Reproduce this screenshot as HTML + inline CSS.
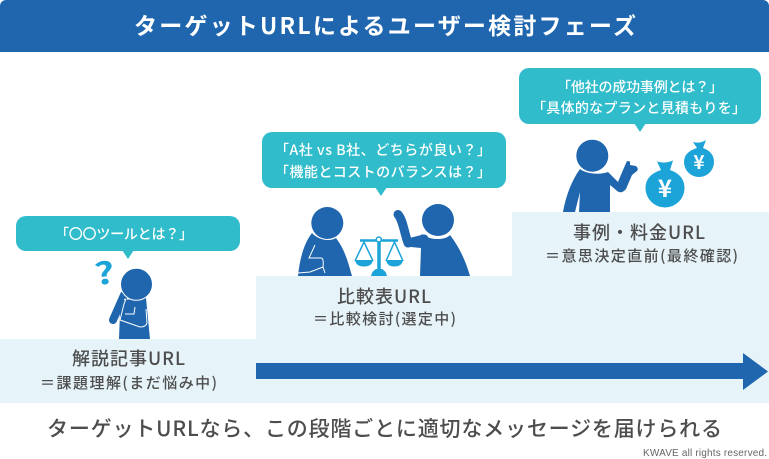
<!DOCTYPE html>
<html lang="ja"><head><meta charset="utf-8"><title>ターゲットURLによるユーザー検討フェーズ</title>
<style>
html,body{margin:0;padding:0;background:#fff;width:769px;height:459px;overflow:hidden}
svg{display:block}
text{font-family:"Noto Sans CJK JP","Liberation Sans",sans-serif;text-anchor:middle}
.b{fill:#fff;font-size:14px;font-weight:500}
.h{fill:#4d4d4d;font-size:18px;font-weight:500}
.s{fill:#4d4d4d;font-size:15px;font-weight:500}
</style></head><body>
<svg width="769" height="459" viewBox="0 0 769 459" xmlns="http://www.w3.org/2000/svg">
<path d="M0 52V6a6 6 0 0 1 6-6H763a6 6 0 0 1 6 6V52Z" fill="#1f66ae"/>
<text x="385" y="34" fill="#fff" font-size="23" font-weight="700" textLength="502" lengthAdjust="spacing">ターゲットURLによるユーザー検討フェーズ</text>

<path d="M0 339H256V276H512V212H769V403H0Z" fill="#e6f4fa"/>
<path d="M256 363H743V353L768 371.500L743 390V379H256Z" fill="#1f66ae"/>

<!-- bubbles -->
<g fill="#30bccb">
<rect x="16" y="216" width="224" height="35" rx="10"/><path d="M122 250H134L128 259Z"/>
<rect x="262" y="132" width="244" height="56" rx="10"/><path d="M375 187H387L381 196Z"/>
<rect x="519" y="68" width="242" height="56" rx="10"/><path d="M634 123H646L640 132Z"/>
</g>
<text class="b" x="124" y="239" textLength="138" lengthAdjust="spacing">「〇〇ツールとは？」</text>
<text class="b" x="383" y="155" textLength="216" lengthAdjust="spacing">「A社 vs B社、どちらが良い？」</text>
<text class="b" x="383" y="177" textLength="216" lengthAdjust="spacing">「機能とコストのバランスは？」</text>
<text class="b" x="640" y="92" textLength="166" lengthAdjust="spacing">「他社の成功事例とは？」</text>
<text class="b" x="639" y="113" textLength="214" lengthAdjust="spacing">「具体的なプランと見積もりを」</text>

<!-- person 1 -->
<text font-size="30" font-weight="700" fill="#1ca4d8" transform="translate(106 284) rotate(-8) scale(1.300 1)">?</text>
<g fill="#1f66ae">
<path d="M119 339L120 312L122 300L146 298L150 339Z"/>
<path d="M124 295L113 320" stroke="#1f66ae" stroke-width="8" stroke-linecap="round"/>
<circle cx="136.500" cy="284.300" r="16" stroke="#fff" stroke-width="1"/>
</g>
<path d="M124 300Q127 297 124 304L120 320L140 327Q146 327 147 323L146 309M135 307L134 314H125" fill="none" stroke="#fff" stroke-width="1"/>

<!-- person 2 -->
<g fill="#1f66ae">
<path d="M298 276C300 256 305 242 312 233C318 240 330 242 336 238C345 250 348 262 352 276Z"/>
<circle cx="327.300" cy="223" r="16"/>
<path d="M420 276L421 248L411 247L422 234C428 240 445 241 450 235C460 248 466 262 470 276Z"/>
<path d="M398 214.500C403 220 404 232 408 243L424 239" fill="none" stroke="#1f66ae" stroke-width="9" stroke-linecap="round" stroke-linejoin="round"/>
<circle cx="438" cy="220" r="16"/>
</g>
<path d="M315 245L309 258H321Q324 258 323 267L310 272L298 273M323 267L325 273" fill="none" stroke="#fff" stroke-width="1"/>
<g fill="#1ca4d8" stroke="#1ca4d8">
<path d="M360 240.500H398" stroke-width="2.500"/>
<path d="M379 240V272" stroke-width="3.500"/>
<path d="M355 261L364 242L373 261M386 261L394.500 242L403 261" fill="none" stroke-width="1.500"/>
<path d="M355 260H373Q372 266.500 364 266.500Q356 266.500 355 260ZM386 260H403Q402 266.500 394.500 266.500Q387 266.500 386 260Z" stroke="none"/>
<path d="M371 276Q372 271 376 269H382Q386 271 387 276Z" stroke="none"/>
</g>
<circle cx="378.800" cy="239.500" r="2.500" fill="#fff" stroke="#1ca4d8" stroke-width="1.500"/>

<!-- person 3 -->
<g fill="#1f66ae">
<path d="M563 212C566 195 572 180 580 169C586 174 600 175 608 172L618 182L623 170L627 161L630 161.500L630 165L636 166Q639 169 637 171L632 175L626 189Q621 195 616 190L610 185V212H579L580 192L575 212Z"/>
<circle cx="592.300" cy="155.700" r="16"/>
</g>
<g fill="#1ca4d8">
<path d="M657 161.500Q665 164 673 160.500L670 170Q684.500 175 684.500 188A19.500 19.500 0 1 1 645.500 188Q645.500 175 661 170Z"/>
<path d="M693 142Q700 144 706 140L703 148Q714 152 714 162A15 15 0 1 1 684 162Q684 152 697 148Z"/>
</g>
<text x="665" y="197" font-size="24" font-weight="700" fill="#fff">¥</text>
<text x="699" y="169" font-size="19" font-weight="700" fill="#fff">¥</text>

<!-- labels -->
<text class="h" x="128.500" y="365" textLength="113" lengthAdjust="spacing">解説記事URL</text>
<text class="s" x="128.500" y="388" textLength="177" lengthAdjust="spacing">＝課題理解(まだ悩み中)</text>
<text class="h" x="384" y="303" textLength="94" lengthAdjust="spacing">比較表URL</text>
<text class="s" x="384.500" y="324" textLength="143" lengthAdjust="spacing">＝比較検討(選定中)</text>
<text class="h" x="639" y="239" textLength="132" lengthAdjust="spacing">事例・料金URL</text>
<text class="s" x="641.500" y="261" textLength="193" lengthAdjust="spacing">＝意思決定直前(最終確認)</text>

<text x="384.500" y="436" fill="#4d4d4d" font-size="21" font-weight="500" textLength="675" lengthAdjust="spacing">ターゲットURLなら、この段階ごとに適切なメッセージを届けられる</text>
<text x="705" y="456" fill="#666" font-size="10" textLength="124" lengthAdjust="spacing" style="font-family:'Liberation Sans',sans-serif">KWAVE all rights reserved.</text>
</svg>
</body></html>
